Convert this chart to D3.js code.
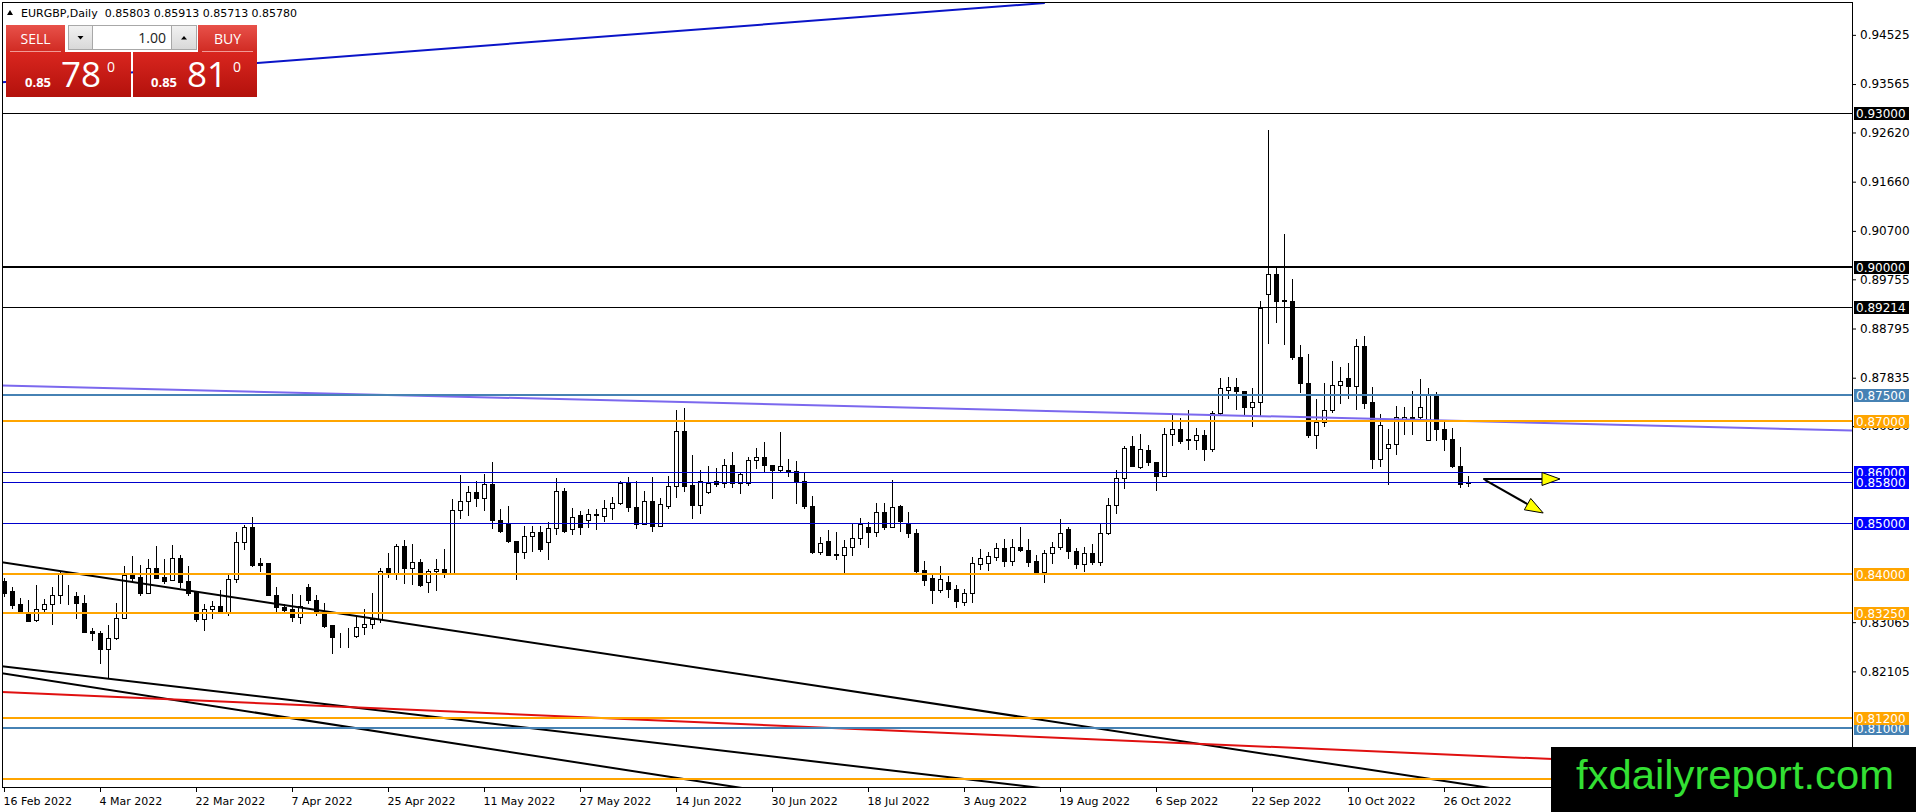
<!DOCTYPE html>
<html>
<head>
<meta charset="utf-8">
<script src="https://cdn.jsdelivr.net/npm/d3@7/dist/d3.min.js"></script>
<style>
    html, body { margin: 0; padding: 0; background: #ffffff; overflow: hidden; }
    svg { display: block; }
</style>
</head>
<body>
<div id="chart"></div>
<script>
// EURGBP daily candles, 16 Feb 2022 .. 31 Oct 2022 (bar index 0..183)
const opens = [
    0.8386, 0.8368, 0.8341, 0.8322, 0.8311, 0.8332, 0.8341, 0.8360, 0.8358, 0.8357,
    0.8344, 0.8290, 0.8286, 0.8255, 0.8276, 0.8314, 0.8398, 0.8395, 0.8364, 0.8413,
    0.8395, 0.8389, 0.8431, 0.8386, 0.8367, 0.8312, 0.8332, 0.8339, 0.8327, 0.8390,
    0.8463, 0.8492, 0.8421, 0.8421, 0.8360, 0.8336, 0.8332, 0.8317, 0.8375, 0.8350,
    0.8324, 0.8301, 0.8279, 0.8280, 0.8280, 0.8297, 0.8303, 0.8312, 0.8413, 0.8402,
    0.8455, 0.8412, 0.8423, 0.8384, 0.8406, 0.8411, 0.8402, 0.8525, 0.8543, 0.8561,
    0.8548, 0.8577, 0.8505, 0.8499, 0.8464, 0.8443, 0.8475, 0.8483, 0.8462, 0.8490,
    0.8563, 0.8489, 0.8515, 0.8505, 0.8517, 0.8514, 0.8530, 0.8540, 0.8579, 0.8532,
    0.8499, 0.8542, 0.8495, 0.8534, 0.8573, 0.8679, 0.8574, 0.8535, 0.8560, 0.8581,
    0.8579, 0.8614, 0.8579, 0.8579, 0.8623, 0.8628, 0.8614, 0.8604, 0.8604, 0.8602,
    0.8582, 0.8534, 0.8444, 0.8464, 0.8439, 0.8438, 0.8454, 0.8470, 0.8492, 0.8483,
    0.8521, 0.8493, 0.8534, 0.8500, 0.8481, 0.8408, 0.8392, 0.8370, 0.8385, 0.8372,
    0.8346, 0.8364, 0.8420, 0.8422, 0.8433, 0.8451, 0.8425, 0.8453, 0.8448, 0.8425,
    0.8404, 0.8442, 0.8453, 0.8489, 0.8446, 0.8420, 0.8442, 0.8423, 0.8481, 0.8536,
    0.8588, 0.8650, 0.8610, 0.8643, 0.8620, 0.8592, 0.8674, 0.8684, 0.8663, 0.8661,
    0.8671, 0.8645, 0.8714, 0.8759, 0.8766, 0.8758, 0.8727, 0.8737, 0.8946, 0.8985,
    0.8935, 0.8934, 0.8824, 0.8773, 0.8672, 0.8698, 0.8721, 0.8769, 0.8782, 0.8768,
    0.8846, 0.8737, 0.8625, 0.8647, 0.8654, 0.8703, 0.8704, 0.8706, 0.8661, 0.8748,
    0.8684, 0.8664, 0.8612, 0.85803
];
const highs = [
    0.8392, 0.8376, 0.8354, 0.8349, 0.8380, 0.8351, 0.8376, 0.8405, 0.8380, 0.8366,
    0.8360, 0.8296, 0.8290, 0.8301, 0.8344, 0.8416, 0.8436, 0.8418, 0.8429, 0.8455,
    0.8429, 0.8457, 0.8438, 0.8416, 0.8367, 0.8342, 0.8347, 0.8370, 0.8398, 0.8482,
    0.8497, 0.8512, 0.8431, 0.8422, 0.8375, 0.8342, 0.8362, 0.8360, 0.8381, 0.8359,
    0.8343, 0.8301, 0.8285, 0.8295, 0.8316, 0.8333, 0.8364, 0.8412, 0.8441, 0.8459,
    0.8467, 0.8459, 0.8429, 0.8411, 0.8429, 0.8449, 0.8546, 0.8594, 0.8573, 0.8581,
    0.8596, 0.8619, 0.8528, 0.8534, 0.8464, 0.8495, 0.8495, 0.8495, 0.8502, 0.8588,
    0.8568, 0.8530, 0.8523, 0.8528, 0.8527, 0.8544, 0.8550, 0.8581, 0.8589, 0.8582,
    0.8563, 0.8590, 0.8548, 0.8592, 0.8720, 0.8725, 0.8632, 0.8603, 0.8612, 0.8608,
    0.8625, 0.8639, 0.8599, 0.8628, 0.8647, 0.8659, 0.8614, 0.8677, 0.8625, 0.8621,
    0.8600, 0.8552, 0.8472, 0.8487, 0.8482, 0.8467, 0.8498, 0.8509, 0.8501, 0.8540,
    0.8540, 0.8583, 0.8536, 0.8522, 0.8489, 0.8425, 0.8398, 0.8416, 0.8396, 0.8379,
    0.8372, 0.8433, 0.8450, 0.8443, 0.8461, 0.8468, 0.8468, 0.8492, 0.8469, 0.8438,
    0.8448, 0.8463, 0.8508, 0.8492, 0.8451, 0.8454, 0.8459, 0.8500, 0.8549, 0.8603,
    0.8651, 0.8669, 0.8674, 0.8653, 0.8620, 0.8685, 0.8710, 0.8704, 0.8721, 0.8686,
    0.8682, 0.8719, 0.8782, 0.8785, 0.8782, 0.8758, 0.8763, 0.8933, 0.9267, 0.9000,
    0.9063, 0.8977, 0.8847, 0.8829, 0.8742, 0.8774, 0.8817, 0.8804, 0.8812, 0.8859,
    0.8865, 0.8765, 0.8713, 0.8684, 0.8729, 0.8727, 0.8757, 0.8781, 0.8763, 0.8755,
    0.8700, 0.8686, 0.8649, 0.85913
];
const lows = [
    0.8358, 0.8334, 0.8324, 0.8309, 0.8309, 0.8326, 0.8303, 0.8343, 0.8341, 0.8314,
    0.8288, 0.8271, 0.8227, 0.8197, 0.8273, 0.8314, 0.8384, 0.8360, 0.8364, 0.8393,
    0.8382, 0.8388, 0.8375, 0.8360, 0.8309, 0.8291, 0.8314, 0.8327, 0.8320, 0.8384,
    0.8449, 0.8416, 0.8406, 0.8360, 0.8326, 0.8326, 0.8309, 0.8304, 0.8343, 0.8320,
    0.8298, 0.8246, 0.8259, 0.8259, 0.8278, 0.8284, 0.8295, 0.8307, 0.8394, 0.8390,
    0.8383, 0.8381, 0.8378, 0.8365, 0.8369, 0.8394, 0.8402, 0.8510, 0.8515, 0.8534,
    0.8525, 0.8491, 0.8482, 0.8462, 0.8391, 0.8432, 0.8445, 0.8445, 0.8429, 0.8479,
    0.8482, 0.8479, 0.8479, 0.8493, 0.8488, 0.8503, 0.8508, 0.8537, 0.8524, 0.8490,
    0.8498, 0.8485, 0.8494, 0.8529, 0.8550, 0.8562, 0.8509, 0.8519, 0.8558, 0.8573,
    0.8571, 0.8571, 0.8558, 0.8574, 0.8608, 0.8602, 0.8549, 0.8602, 0.8592, 0.8540,
    0.8529, 0.8442, 0.8440, 0.8438, 0.8430, 0.8401, 0.8438, 0.8460, 0.8454, 0.8475,
    0.8488, 0.8492, 0.8484, 0.8472, 0.8402, 0.8379, 0.8344, 0.8366, 0.8355, 0.8337,
    0.8340, 0.8346, 0.8410, 0.8408, 0.8427, 0.8417, 0.8419, 0.8445, 0.8417, 0.8401,
    0.8384, 0.8422, 0.8450, 0.8432, 0.8412, 0.8406, 0.8420, 0.8419, 0.8479, 0.8519,
    0.8569, 0.8611, 0.8608, 0.8614, 0.8565, 0.8592, 0.8653, 0.8656, 0.8645, 0.8645,
    0.8622, 0.8640, 0.8713, 0.8744, 0.8723, 0.8712, 0.8690, 0.8710, 0.8852, 0.8893,
    0.8850, 0.8820, 0.8755, 0.8667, 0.8647, 0.8690, 0.8716, 0.8734, 0.8744, 0.8723,
    0.8724, 0.8608, 0.8612, 0.8577, 0.8634, 0.8673, 0.8673, 0.8703, 0.8661, 0.8662,
    0.8643, 0.8609, 0.8570, 0.85713
];
const closes = [
    0.8364, 0.8340, 0.8326, 0.8309, 0.8332, 0.8341, 0.8360, 0.8401, 0.8357, 0.8343,
    0.8288, 0.8285, 0.8255, 0.8276, 0.8314, 0.8398, 0.8393, 0.8363, 0.8413, 0.8393,
    0.8387, 0.8431, 0.8384, 0.8364, 0.8312, 0.8332, 0.8339, 0.8327, 0.8390, 0.8463,
    0.8492, 0.8418, 0.8418, 0.8360, 0.8336, 0.8331, 0.8317, 0.8338, 0.8350, 0.8327,
    0.8299, 0.8277, 0.8280, 0.8280, 0.8297, 0.8303, 0.8312, 0.8406, 0.8402, 0.8455,
    0.8412, 0.8423, 0.8380, 0.8406, 0.8411, 0.8402, 0.8525, 0.8543, 0.8561, 0.8548,
    0.8577, 0.8505, 0.8485, 0.8464, 0.8443, 0.8475, 0.8483, 0.8450, 0.8490, 0.8563,
    0.8485, 0.8512, 0.8493, 0.8518, 0.8515, 0.8530, 0.8540, 0.8579, 0.8532, 0.8499,
    0.8542, 0.8495, 0.8538, 0.8573, 0.8679, 0.8573, 0.8535, 0.8582, 0.8578, 0.8576,
    0.8614, 0.8579, 0.8595, 0.8623, 0.8628, 0.8614, 0.8604, 0.8612, 0.8601, 0.8582,
    0.8534, 0.8444, 0.8461, 0.8438, 0.8438, 0.8454, 0.8470, 0.8499, 0.8483, 0.8521,
    0.8493, 0.8532, 0.8504, 0.8480, 0.8407, 0.8389, 0.8370, 0.8390, 0.8372, 0.8348,
    0.8364, 0.8421, 0.8432, 0.8435, 0.8451, 0.8425, 0.8454, 0.8448, 0.8423, 0.8404,
    0.8442, 0.8453, 0.8481, 0.8445, 0.8420, 0.8442, 0.8423, 0.8481, 0.8536, 0.8588,
    0.8647, 0.8611, 0.8645, 0.8619, 0.8592, 0.8674, 0.8684, 0.8660, 0.8662, 0.8671,
    0.8645, 0.8714, 0.8763, 0.8766, 0.8757, 0.8727, 0.8737, 0.8920, 0.8985, 0.8933,
    0.8934, 0.8823, 0.8774, 0.8671, 0.8698, 0.8721, 0.8769, 0.8778, 0.8768, 0.8846,
    0.8735, 0.8625, 0.8692, 0.8654, 0.8706, 0.8707, 0.8707, 0.8727, 0.8750, 0.8684,
    0.8664, 0.8612, 0.8577, 0.85780
];

// bottom time axis
const dateTickIndex = [0, 12, 24, 36, 48, 60, 72, 84, 96, 108, 120, 132, 144, 156, 168, 180];
const dateTickLabels = [
    '16 Feb 2022', '4 Mar 2022', '22 Mar 2022', '7 Apr 2022', '25 Apr 2022', '11 May 2022',
    '27 May 2022', '14 Jun 2022', '30 Jun 2022', '18 Jul 2022', '3 Aug 2022', '19 Aug 2022',
    '6 Sep 2022', '22 Sep 2022', '10 Oct 2022', '26 Oct 2022'
];

// right price axis (ticks that the level boxes fully hide are left out)
const priceTicks = [
    0.94525, 0.93565, 0.92620, 0.91660, 0.90700, 0.89755, 0.88795, 0.87835,
    0.86890, 0.83065, 0.82105
];

// horizontal levels (drawn in this order, later labels sit on top)
const levelPrices = [0.93, 0.90, 0.89214, 0.875, 0.87, 0.86, 0.858, 0.85, 0.84, 0.8325, 0.81, 0.812, 0.80];
const levelKinds = ['black', 'blackBold', 'black', 'steel', 'orange', 'blue', 'blue', 'blue', 'orange', 'orange', 'steel', 'orange', 'orange'];

// trend lines: anchors as (bar index, price)
const trendKinds = ['topBlue', 'purple', 'black', 'black', 'black', 'red'];
const trendStartIdx = [-0.5, -0.5, -0.5, -0.5, -0.5, -0.5];
const trendStartPrice = [0.93595, 0.87683, 0.84239, 0.82210, 0.82073, 0.81702];
const trendEndIdx = [130.1, 231, 186.6, 129.6, 92.25, 231];
const trendEndPrice = [0.95146, 0.86805, 0.79810, 0.79829, 0.79829, 0.80142];

// yellow arrows
const arrowStartIdx = [184.9, 185.1];
const arrowStartPrice = [0.85859, 0.85840];
const arrowEndIdx = [194.5, 192.4];
const arrowEndPrice = [0.85859, 0.85195];

const symbolName = 'EURGBP,Daily';
const bidAsk = [0.85780, 0.85810];
const lotSize = '1.00';
const watermarkText = 'fxdailyreport.com';

const W = 1916;
const H = 812;
const plotLeft = 2.5;
const plotTop = 2.5;
const plotRight = 1852.5;
const plotBottom = 787.5;
const axisFont = '"DejaVu Sans", Verdana, sans-serif';
const panelFont = '"Open Sans", "Noto Sans", sans-serif';

const levelStyle = {
    black: { color: '#000000', width: 1, box: '#000000' },
    blackBold: { color: '#000000', width: 2, box: '#000000' },
    steel: { color: '#4682b4', width: 2, box: '#4682b4' },
    orange: { color: '#ffa500', width: 2, box: '#ffa500' },
    blue: { color: '#0000cc', width: 1, box: '#0000ff' }
};
const trendStyle = {
    topBlue: { color: '#0a14c8', width: 2 },
    purple: { color: '#7b68ee', width: 2 },
    black: { color: '#000000', width: 2 },
    red: { color: '#e01010', width: 2 }
};

const bars = opens.map((o, i) => ({ i, o, h: highs[i], l: lows[i], c: closes[i] }));

const x = d3.scaleLinear().domain([0, bars.length - 1]).range([4, 4 + 8 * (bars.length - 1)]);
const y = d3.scaleLinear().domain([0.93, 0.81]).range([113, 728]);
const fmt5 = d3.format('.5f');

const svg = d3.select('#chart')
    .append('svg')
    .attr('width', W)
    .attr('height', H)
    .attr('viewBox', `0 0 ${W} ${H}`);

svg.append('rect').attr('width', W).attr('height', H).attr('fill', '#ffffff');

const defs = svg.append('defs');
defs.append('clipPath').attr('id', 'plot-clip')
    .append('rect')
    .attr('x', plotLeft).attr('y', plotTop)
    .attr('width', plotRight - plotLeft).attr('height', plotBottom - plotTop);

function addGradient(id, top, bottom) {
    const lg = defs.append('linearGradient').attr('id', id)
        .attr('x1', 0).attr('y1', 0).attr('x2', 0).attr('y2', 1);
    lg.append('stop').attr('offset', '0%').attr('stop-color', top);
    lg.append('stop').attr('offset', '100%').attr('stop-color', bottom);
}
addGradient('btn-red', '#e8514a', '#d02a22');
addGradient('box-red', '#d9261f', '#b3110c');
addGradient('btn-grey', '#f2f2f2', '#d8d8d8');

const plot = svg.append('g').attr('clip-path', 'url(#plot-clip)');

// candles
const candles = plot.append('g').attr('class', 'candles').attr('shape-rendering', 'crispEdges');
candles.selectAll('line.wick')
    .data(bars)
    .join('line')
    .attr('class', 'wick')
    .attr('x1', d => Math.round(x(d.i)) + 0.5)
    .attr('x2', d => Math.round(x(d.i)) + 0.5)
    .attr('y1', d => Math.round(y(d.h)))
    .attr('y2', d => Math.round(y(d.l)) + 1)
    .attr('stroke', '#000000')
    .attr('stroke-width', 1);
candles.selectAll('rect.body')
    .data(bars)
    .join('rect')
    .attr('class', 'body')
    .attr('x', d => Math.round(x(d.i)) - 1.5)
    .attr('width', 4)
    .attr('y', d => Math.round(y(Math.max(d.o, d.c))) + 0.5)
    .attr('height', d => Math.max(0, Math.round(y(Math.min(d.o, d.c))) - Math.round(y(Math.max(d.o, d.c)))))
    .attr('fill', d => (d.c >= d.o ? '#ffffff' : '#000000'))
    .attr('stroke', '#000000')
    .attr('stroke-width', 1);

// sloping trend lines
const trends = trendKinds.map((k, i) => ({
    k,
    x1: x(trendStartIdx[i]), y1: y(trendStartPrice[i]),
    x2: x(trendEndIdx[i]), y2: y(trendEndPrice[i])
}));
plot.append('g').attr('class', 'trend-lines')
    .selectAll('line')
    .data(trends)
    .join('line')
    .attr('x1', d => d.x1).attr('y1', d => d.y1)
    .attr('x2', d => d.x2).attr('y2', d => d.y2)
    .attr('stroke', d => trendStyle[d.k].color)
    .attr('stroke-width', d => trendStyle[d.k].width);

// horizontal levels
plot.append('g').attr('class', 'levels').attr('shape-rendering', 'crispEdges')
    .selectAll('line')
    .data(levelPrices.map((p, i) => ({ p, k: levelKinds[i] })))
    .join('line')
    .attr('x1', plotLeft)
    .attr('x2', plotRight)
    .attr('y1', d => Math.round(y(d.p)) + (levelStyle[d.k].width === 1 ? 0.5 : 0))
    .attr('y2', d => Math.round(y(d.p)) + (levelStyle[d.k].width === 1 ? 0.5 : 0))
    .attr('stroke', d => levelStyle[d.k].color)
    .attr('stroke-width', d => levelStyle[d.k].width);

// arrows
const arrows = arrowStartIdx.map((s, i) => ({
    x1: x(s), y1: y(arrowStartPrice[i]),
    x2: x(arrowEndIdx[i]), y2: y(arrowEndPrice[i])
}));
const arrowG = plot.append('g').attr('class', 'arrows');
arrows.forEach(a => {
    const dx = a.x2 - a.x1;
    const dy = a.y2 - a.y1;
    const len = Math.hypot(dx, dy);
    const ux = dx / len;
    const uy = dy / len;
    const headLen = 18;
    const halfW = 6.5;
    const bx = a.x2 - ux * headLen;
    const by = a.y2 - uy * headLen;
    arrowG.append('line')
        .attr('x1', a.x1).attr('y1', a.y1)
        .attr('x2', bx).attr('y2', by)
        .attr('stroke', '#000000')
        .attr('stroke-width', 2);
    arrowG.append('path')
        .attr('d', `M${a.x2},${a.y2}L${bx - uy * halfW},${by + ux * halfW}L${bx + uy * halfW},${by - ux * halfW}Z`)
        .attr('fill', '#ffff00')
        .attr('stroke', '#000000')
        .attr('stroke-width', 1);
});

// frame
svg.append('rect')
    .attr('x', plotLeft).attr('y', plotTop)
    .attr('width', plotRight - plotLeft).attr('height', plotBottom - plotTop)
    .attr('fill', 'none')
    .attr('stroke', '#000000')
    .attr('stroke-width', 1)
    .attr('shape-rendering', 'crispEdges');

// right price axis
const yAxisG = svg.append('g')
    .attr('class', 'y-axis')
    .attr('transform', `translate(${plotRight - 0.5},0)`)
    .call(d3.axisRight(y).tickValues(priceTicks).tickFormat(fmt5).tickSize(4).tickPadding(4));
yAxisG.select('.domain').remove();
yAxisG.attr('font-family', axisFont).attr('font-size', 12);
yAxisG.selectAll('text').attr('fill', '#000000');
yAxisG.selectAll('line').attr('stroke', '#000000');

// bottom date axis
const xAxisG = svg.append('g')
    .attr('class', 'x-axis')
    .attr('transform', `translate(0,${plotBottom - 0.5})`)
    .call(d3.axisBottom(x).tickValues(dateTickIndex).tickFormat((d, i) => dateTickLabels[i]).tickSize(5).tickPadding(5));
xAxisG.select('.domain').remove();
xAxisG.attr('font-family', axisFont).attr('font-size', 11);
xAxisG.selectAll('text').attr('text-anchor', 'start').attr('x', -1).attr('fill', '#000000');
xAxisG.selectAll('line').attr('stroke', '#000000');

// level price boxes on the axis
const boxes = svg.append('g').attr('class', 'level-labels');
levelPrices.forEach((p, i) => {
    const cy = Math.round(y(p));
    const st = levelStyle[levelKinds[i]];
    boxes.append('rect')
        .attr('x', 1854).attr('y', cy - 6.5)
        .attr('width', 55).attr('height', 13)
        .attr('fill', st.box)
        .attr('shape-rendering', 'crispEdges');
    boxes.append('text')
        .attr('x', 1856).attr('y', cy + 4.5)
        .attr('font-family', axisFont).attr('font-size', 12)
        .attr('fill', '#ffffff')
        .text(fmt5(p));
});

// header line
const last = bars[bars.length - 1];
svg.append('path').attr('d', 'M7,15L13,15L10,10Z').attr('fill', '#000000');
svg.append('text')
    .attr('x', 21).attr('y', 17)
    .attr('font-family', axisFont).attr('font-size', 11)
    .attr('fill', '#000000')
    .style('white-space', 'pre')
    .text(`${symbolName}  ${fmt5(last.o)} ${fmt5(last.h)} ${fmt5(last.l)} ${fmt5(last.c)}`);

// one-click trade panel
const panel = svg.append('g').attr('class', 'trade-panel');
function priceParts(v) {
    const s = fmt5(v);
    return [s.slice(0, 4), s.slice(4, 6), s.slice(6)];
}
[
    { x0: 6, label: 'SELL', v: bidAsk[0], bx: 6, bw: 125 },
    { x0: 198, label: 'BUY', v: bidAsk[1], bx: 133, bw: 124 }
].forEach((b, k) => {
    panel.append('rect').attr('x', b.x0).attr('y', 25).attr('width', 59).attr('height', 27)
        .attr('fill', 'url(#btn-red)');
    panel.append('line').attr('x1', b.x0 + 4).attr('x2', b.x0 + 55).attr('y1', 51.5).attr('y2', 51.5)
        .attr('stroke', '#f19a96').attr('stroke-width', 1);
    panel.append('text').attr('x', b.x0 + 29.5).attr('y', 44).attr('text-anchor', 'middle')
        .attr('font-family', panelFont).attr('font-size', 14).attr('fill', '#ffffff')
        .text(b.label);
    panel.append('rect').attr('x', b.bx).attr('y', 52).attr('width', b.bw).attr('height', 45)
        .attr('fill', 'url(#box-red)');
    const parts = priceParts(b.v);
    const px = b.bx + (k === 0 ? 19 : 18);
    panel.append('text').attr('x', px).attr('y', 87)
        .attr('font-family', panelFont).attr('font-size', 13).attr('font-weight', 700).attr('fill', '#ffffff')
        .text(parts[0]);
    panel.append('text').attr('x', px + 36).attr('y', 87)
        .attr('font-family', panelFont).attr('font-size', 35).attr('fill', '#ffffff')
        .text(parts[1]);
    panel.append('text').attr('x', px + 82).attr('y', 72)
        .attr('font-family', panelFont).attr('font-size', 14).attr('fill', '#ffffff')
        .text(parts[2]);
});
// lot spinner
panel.append('rect').attr('x', 68.5).attr('y', 25.5).attr('width', 128).attr('height', 24)
    .attr('fill', '#ffffff').attr('stroke', '#a8a8a8');
panel.append('rect').attr('x', 68.5).attr('y', 25.5).attr('width', 24).attr('height', 24)
    .attr('fill', 'url(#btn-grey)').attr('stroke', '#a8a8a8');
panel.append('rect').attr('x', 171.5).attr('y', 25.5).attr('width', 25).attr('height', 24)
    .attr('fill', 'url(#btn-grey)').attr('stroke', '#a8a8a8');
panel.append('path').attr('d', 'M77.5,36L83.5,36L80.5,39.5Z').attr('fill', '#000000');
panel.append('path').attr('d', 'M181,39.5L187,39.5L184,36Z').attr('fill', '#000000');
panel.append('text').attr('x', 166).attr('y', 43).attr('text-anchor', 'end')
    .attr('font-family', panelFont).attr('font-size', 14).attr('fill', '#222222')
    .text(lotSize);

// watermark
svg.append('rect').attr('x', 1551).attr('y', 747).attr('width', W - 1551).attr('height', H - 747)
    .attr('fill', '#000000');
svg.append('text')
    .attr('x', 1576).attr('y', 789)
    .attr('font-family', '"Liberation Sans Narrow", "Liberation Sans", Arial, sans-serif')
    .attr('font-size', 40)
    .attr('textLength', 318)
    .attr('lengthAdjust', 'spacingAndGlyphs')
    .attr('fill', '#33e033')
    .text(watermarkText);
</script>
</body>
</html>
